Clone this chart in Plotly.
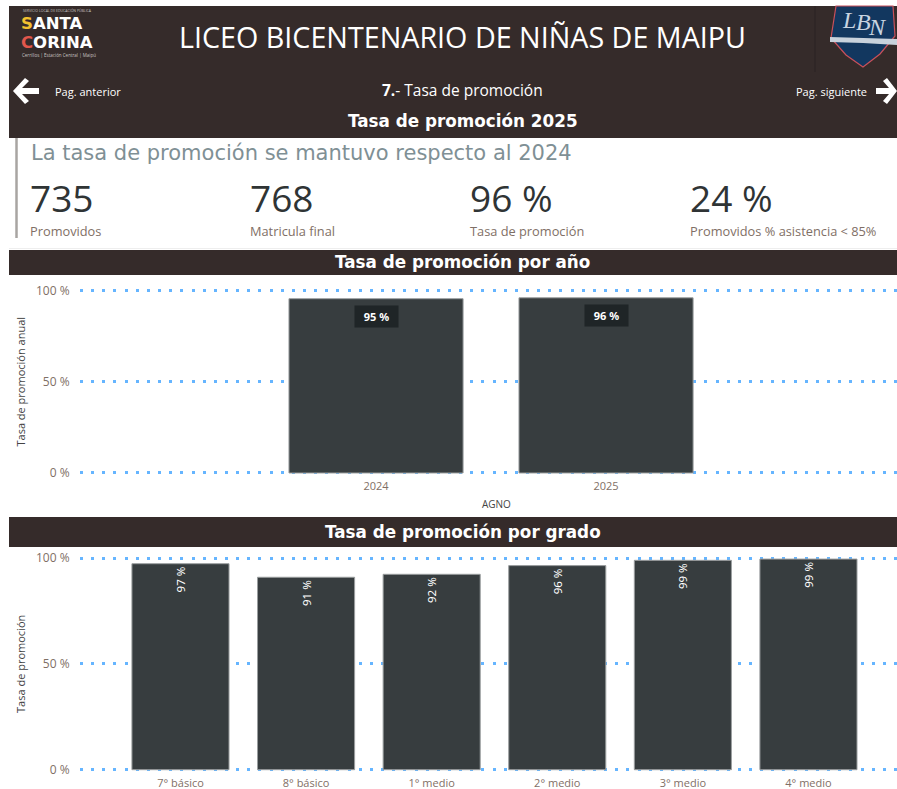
import plotly.graph_objects as go

W, H = 897, 789

# ---- data
years = ["2024", "2025"]
year_rate = [95.5, 96.0]
year_labels = ["95 %", "96 %"]
grades = ["7° básico", "8° básico", "1° medio", "2° medio", "3° medio", "4° medio"]
grade_rate = [97.3, 90.9, 92.3, 96.4, 98.9, 99.5]
grade_labels = ["97 %", "91 %", "92 %", "96 %", "99 %", "99 %"]
y_ticks = [0, 50, 100]
y_tick_text = ["0 %", "50 %", "100 %"]
kpi_values = ["735", "768", "96 %", "24 %"]
kpi_names = ["Promovidos", "Matricula final", "Tasa de promoción", "Promovidos % asistencia < 85%"]

# ---- style
DARK = "#352b2a"
BAR = "#373d3f"
DOT = "#66b5ff"
TICK = "#7f6f66"
SANS = "Open Sans"
DIN = "Noto Sans"
WIDE = "DejaVu Sans"


def px(x):
    return x / W


def py(y):
    return 1 - y / H


def band(y0, y1):
    return dict(type="rect", xref="paper", yref="paper", x0=px(9), x1=px(897), y0=py(y0), y1=py(y1),
                fillcolor=DARK, line=dict(color="#8a8280", width=0), layer="below")


def path(d, fill, line=None, lw=0):
    return dict(type="path", xref="paper", yref="paper", path=d, fillcolor=fill,
                line=dict(color=line or fill, width=lw))


def P(points):
    return "M " + " L ".join(f"{px(x):.5f},{py(y):.5f}" for x, y in points) + " Z"


def note(x, y, text, size, color="white", anchor="left", font=SANS, **kw):
    return dict(xref="paper", yref="paper", x=px(x), y=py(y), text=text, showarrow=False,
                xanchor=anchor, yanchor="middle", font=dict(size=size, color=color, family=font), **kw)


fig = go.Figure()
fig.add_trace(go.Bar(x=years, y=year_rate, marker=dict(color=BAR, line=dict(color="#9a9e9f", width=1)),
                     xaxis="x", yaxis="y", showlegend=False, hoverinfo="skip"))
fig.add_trace(go.Bar(x=grades, y=grade_rate, text=grade_labels, textposition="inside",
                     insidetextanchor="end", textangle=-90, constraintext="none", width=0.773,
                     insidetextfont=dict(color="white", size=11.5, family=DIN),
                     marker=dict(color=BAR, line=dict(color="#9a9e9f", width=1)),
                     xaxis="x2", yaxis="y2", showlegend=False, hoverinfo="skip"))

shapes = [
    band(6, 138), band(250, 275), band(517, 547),
    dict(type="line", xref="paper", yref="paper", x0=px(16.5), x1=px(16.5), y0=py(138), y1=py(238),
         line=dict(color="#a8a5a2", width=2.5)),
    dict(type="line", xref="paper", yref="paper", x0=px(9), x1=px(897), y0=py(248.5), y1=py(248.5),
         line=dict(color="#eeeeee", width=1)),
    dict(type="line", xref="paper", yref="paper", x0=px(815), x1=px(815), y0=py(6), y1=py(72),
         line=dict(color="#2b2322", width=1)),
    # left / right navigation arrows
    path(P([(13, 91), (25, 78), (29, 81), (22, 88), (39, 88), (39, 94), (22, 94), (29, 101), (25, 104)]), "white"),
    path(P([(897, 91), (887, 78), (883, 81), (889, 88), (876, 88), (876, 94), (889, 94), (883, 101), (887, 104)]), "white"),
    # school crest
    path(P([(836, 6), (893, 6), (895, 36), (880, 54), (863, 67), (846, 55), (831, 38)]), "#12375f", "#c9505a", 1.2),
    path(P([(830, 37), (897, 39), (897, 45), (863, 43), (830, 42)]), "#c8d2dc"),
]

annotations = [
    note(21, 11, "SERVICIO LOCAL DE EDUCACIÓN PÚBLICA", 3.5, "#c9c4c2"),
    note(19, 23.5, "<b><span style='color:#f2c230'>S</span>ANTA</b>", 16.5, font=WIDE),
    note(19, 42.5, "<b><span style='color:#e2574c'>C</span>ORINA</b>", 16.5, font=WIDE),
    note(20, 55, "Cerrillos | Estación Central | Maipú", 4.5, "#c9c4c2"),
    note(463, 37, "LICEO BICENTENARIO DE NIÑAS DE MAIPU", 28.7, anchor="center"),
    note(53, 91, "Pag. anterior", 11),
    note(869, 91, "Pag. siguiente", 11, anchor="right"),
    note(463, 90, "<b>7.</b>- Tasa de promoción", 15.5, anchor="center"),
    note(463, 121, "<b>Tasa de promoción 2025</b>", 16.8, anchor="center", font=WIDE),
    note(29, 153, "La tasa de promoción se mantuvo respecto al 2024", 21, "#7f9095", font=WIDE),
    note(463, 262, "<b>Tasa de promoción por año</b>", 16.8, anchor="center", font=WIDE),
    note(463, 532, "<b>Tasa de promoción por grado</b>", 16.8, anchor="center", font=WIDE),
    note(849, 20, "<i>L</i>", 24, "#c8d4e0", anchor="center", font="Liberation Serif"),
    note(863, 22, "<i>B</i>", 24, "#c8d4e0", anchor="center", font="Liberation Serif"),
    note(877, 27, "<i>N</i>", 24, "#c8d4e0", anchor="center", font="Liberation Serif"),
    note(496, 504, "AGNO", 10, "#444444", anchor="center"),
]

for kx, val, name in zip([30, 250, 470, 690], kpi_values, kpi_names):
    annotations.append(note(kx - 2, 198, val, 37, "#2f3435"))
    annotations.append(note(kx - 2, 231, name, 12.8, TICK))

for i, (v, lab) in enumerate(zip(year_rate, year_labels)):
    annotations.append(dict(xref="x", yref="y", x=i, y=v, text=f"&nbsp;&nbsp;<b>{lab}</b>&nbsp;&nbsp;", showarrow=False,
                            yanchor="top", yshift=-6, bgcolor="#1f2527", borderpad=3,
                            font=dict(size=11, color="white", family=DIN)))

yaxis_common = dict(tickmode="array", tickvals=y_ticks, ticktext=y_tick_text, showgrid=True, gridcolor=DOT,
                    gridwidth=3, griddash="3px,8.15px", zeroline=False, showline=False,
                    ticks="outside", ticklen=7, tickcolor="rgba(0,0,0,0)", automargin=False,
                    tickfont=dict(size=12, color=TICK, family=SANS))
xaxis_common = dict(type="category", showgrid=False, zeroline=False, showline=False, ticks="outside",
                    ticklen=1, tickcolor="rgba(0,0,0,0)", automargin=False,
                    tickfont=dict(size=11, color=TICK, family=SANS))

# the value range is padded by 1 unit each way so the 0 % and 100 % dotted lines are drawn
pad1 = (473 - 290.5) / 100
pad2 = (769.7 - 558) / 100

fig.update_layout(
    width=W, height=H, margin=dict(l=0, r=0, t=0, b=0), paper_bgcolor="white", plot_bgcolor="white",
    bargap=0.243, font=dict(family=SANS),
    xaxis=dict(xaxis_common, domain=[px(80), 1], range=[-1.287, 2.265], anchor="y"),
    yaxis=dict(yaxis_common, domain=[py(473 + pad1), py(290.5 - pad1)], range=[-1, 101], anchor="x",
               title=dict(text="Tasa de promoción anual", standoff=8,
                          font=dict(size=11, color="#444444", family=SANS))),
    xaxis2=dict(xaxis_common, domain=[px(80), 1], range=[-0.8, 5.705], anchor="y2"),
    yaxis2=dict(yaxis_common, domain=[py(769.7 + pad2), py(558 - pad2)], range=[-1, 101], anchor="x2",
                title=dict(text="Tasa de promoción", standoff=8,
                           font=dict(size=11, color="#444444", family=SANS))),
    shapes=shapes, annotations=annotations,
)

fig.write_html("out.html", config=dict(displayModeBar=False),
               post_script="document.body.style.margin='0';document.body.style.overflow='hidden';")
